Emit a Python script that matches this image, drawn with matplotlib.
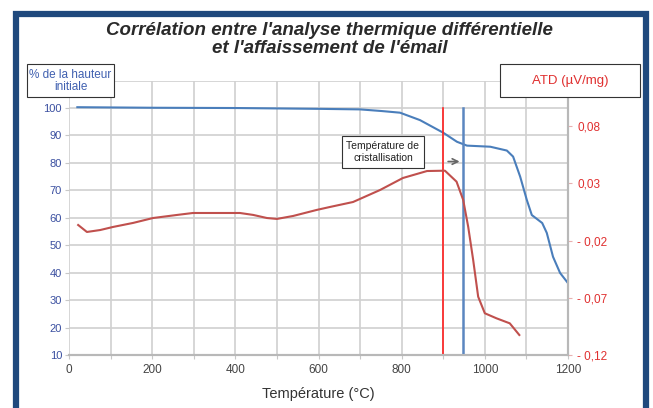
import matplotlib
matplotlib.use("Agg")
import matplotlib.pyplot as plt
from matplotlib.patches import Rectangle

plt.rcParams['font.family'] = ['Liberation Sans', 'DejaVu Sans']

# hauteur (% de la hauteur initiale)
temp_h = [20, 200, 400, 600, 700, 752, 796, 844, 900, 933, 957, 1013, 1053, 1068, 1085, 1101, 1113, 1138, 1149,
          1164, 1181, 1200]
hauteur = [100.3, 100.1, 100.0, 99.7, 99.5, 98.9, 98.3, 95.6, 91.0, 87.7, 86.3, 85.9, 84.5, 82.3, 75.0, 66.5, 61.0,
           58.1, 54.5, 45.8, 39.9, 36.2]

# ATD (µV/mg)
temp_atd = [22, 43, 75, 106, 154, 202, 260, 298, 356, 411, 443, 476, 500, 539, 596, 628, 683, 748, 803, 861, 904,
            932, 948, 960, 972, 984, 1000, 1028, 1060, 1083]
atd = [-0.0063, -0.0124, -0.0107, -0.0080, -0.0045, -0.0002, 0.0025, 0.0042, 0.0042, 0.0042, 0.0025, -0.0002,
       -0.0010, 0.0016, 0.0069, 0.0095, 0.0138, 0.0243, 0.0348, 0.0409, 0.0412,
       0.0316, 0.0156, -0.0078, -0.0369, -0.0690, -0.0835, -0.0879, -0.0923, -0.1025]

t_atd_pic = 900
t_cristal = 948

left_ticks = [10, 20, 30, 40, 50, 60, 70, 80, 90, 100]
right_ticks = [0.08, 0.03, -0.02, -0.07, -0.12]
right_labels = ["0,08", "0,03", "- 0,02", "- 0,07", "- 0,12"]
x_ticks = [0, 200, 400, 600, 800, 1000, 1200]

fig = plt.figure(figsize=(6.53, 4.08), dpi=100)
ax1 = fig.add_axes([0.1057, 0.1299, 0.7641, 0.6726])
ax2 = ax1.twinx()

ax1.set_xlim(0, 1200)
ax1.set_ylim(10, 110)
ax2.set_ylim(-0.12, 0.12)

ax1.set_xticks(range(0, 1201, 100))
ax1.set_xticklabels([str(t) if t in x_ticks else "" for t in range(0, 1201, 100)])
ax1.set_yticks(range(10, 111, 10))
ax1.set_yticklabels([str(v) if v in left_ticks else "" for v in range(10, 111, 10)])
ax1.grid(True, color='#d0d0d0', linewidth=1.2)
ax1.set_axisbelow(True)
ax1.tick_params(axis='y', colors='#c8c8c8', labelcolor='#3a4fa0', labelsize=8, length=3, pad=2)
ax1.tick_params(axis='x', colors='#c8c8c8', labelcolor='#444444', labelsize=8.5, length=3)

ax2.set_yticks(right_ticks)
ax2.set_yticklabels(right_labels)
ax2.tick_params(axis='y', colors='#e8b0b0', labelcolor='#e03030', labelsize=8.5, length=3)

for ax in (ax1, ax2):
    for s in ['top', 'left']:
        ax.spines[s].set_visible(False)
    ax.spines['bottom'].set_color('#b8b8b8')
    ax.spines['right'].set_color('#b8b8b8')
    ax.spines['bottom'].set_linewidth(1.5)
    ax.spines['right'].set_linewidth(1.5)

ax1.plot(temp_h, hauteur, color='#4a7ebb', linewidth=1.5, zorder=3)
ax2.plot(temp_atd, atd, color='#c0504d', linewidth=1.5, zorder=3)
ax1.axvline(t_atd_pic, ymax=0.9, color='#ff2020', linewidth=1.2, zorder=4)
ax1.axvline(t_cristal, ymax=0.9, color='#5b86c0', linewidth=1.8, zorder=4)

ax1.text(755, 84.0, "Température de\ncristallisation", ha='center', va='center', fontsize=7.5,
         color='#222222', linespacing=1.25,
         bbox=dict(boxstyle='square,pad=0.45', fc='white', ec='#333333', lw=0.8), zorder=5)
ax1.annotate("", xy=(t_cristal - 2, 80.5), xytext=(905, 80.5),
             arrowprops=dict(arrowstyle='->', color='#666666', lw=1.2), zorder=5)

ax1.set_xlabel("Température (°C)", fontsize=10.5, color='#333333', labelpad=8)

fig.text(0.505, 0.904, "Corrélation entre l'analyse thermique différentielle\net l'affaissement de l'émail",
         ha='center', va='center', fontsize=13.5, fontweight='bold', style='italic', color='#2a2a2a',
         linespacing=1.1)

fig.patches.append(Rectangle((27 / 653, 1 - 97 / 408), 87 / 653, 33 / 408, transform=fig.transFigure,
                             fc='white', ec='#333333', lw=0.8, zorder=9))
fig.text(70.5 / 653, 1 - 80.5 / 408, "% de la hauteur\ninitiale", ha='center', va='center', fontsize=8.5,
         color='#4060b0', linespacing=1.0, zorder=10)
fig.patches.append(Rectangle((500 / 653, 1 - 97 / 408), 140 / 653, 33 / 408, transform=fig.transFigure,
                             fc='white', ec='#333333', lw=0.8, zorder=9))
fig.text(570 / 653, 1 - 81 / 408, "ATD (µV/mg)", ha='center', va='center', fontsize=9.5,
         color='#e03030', zorder=10)

fig.patches.append(Rectangle((15.5 / 653, -0.1), 630 / 653, 1.1 - 13.5 / 408, transform=fig.transFigure,
                             fill=False, ec='#1f497d', lw=4.5, zorder=20))

fig.savefig("out.png", dpi=100)
